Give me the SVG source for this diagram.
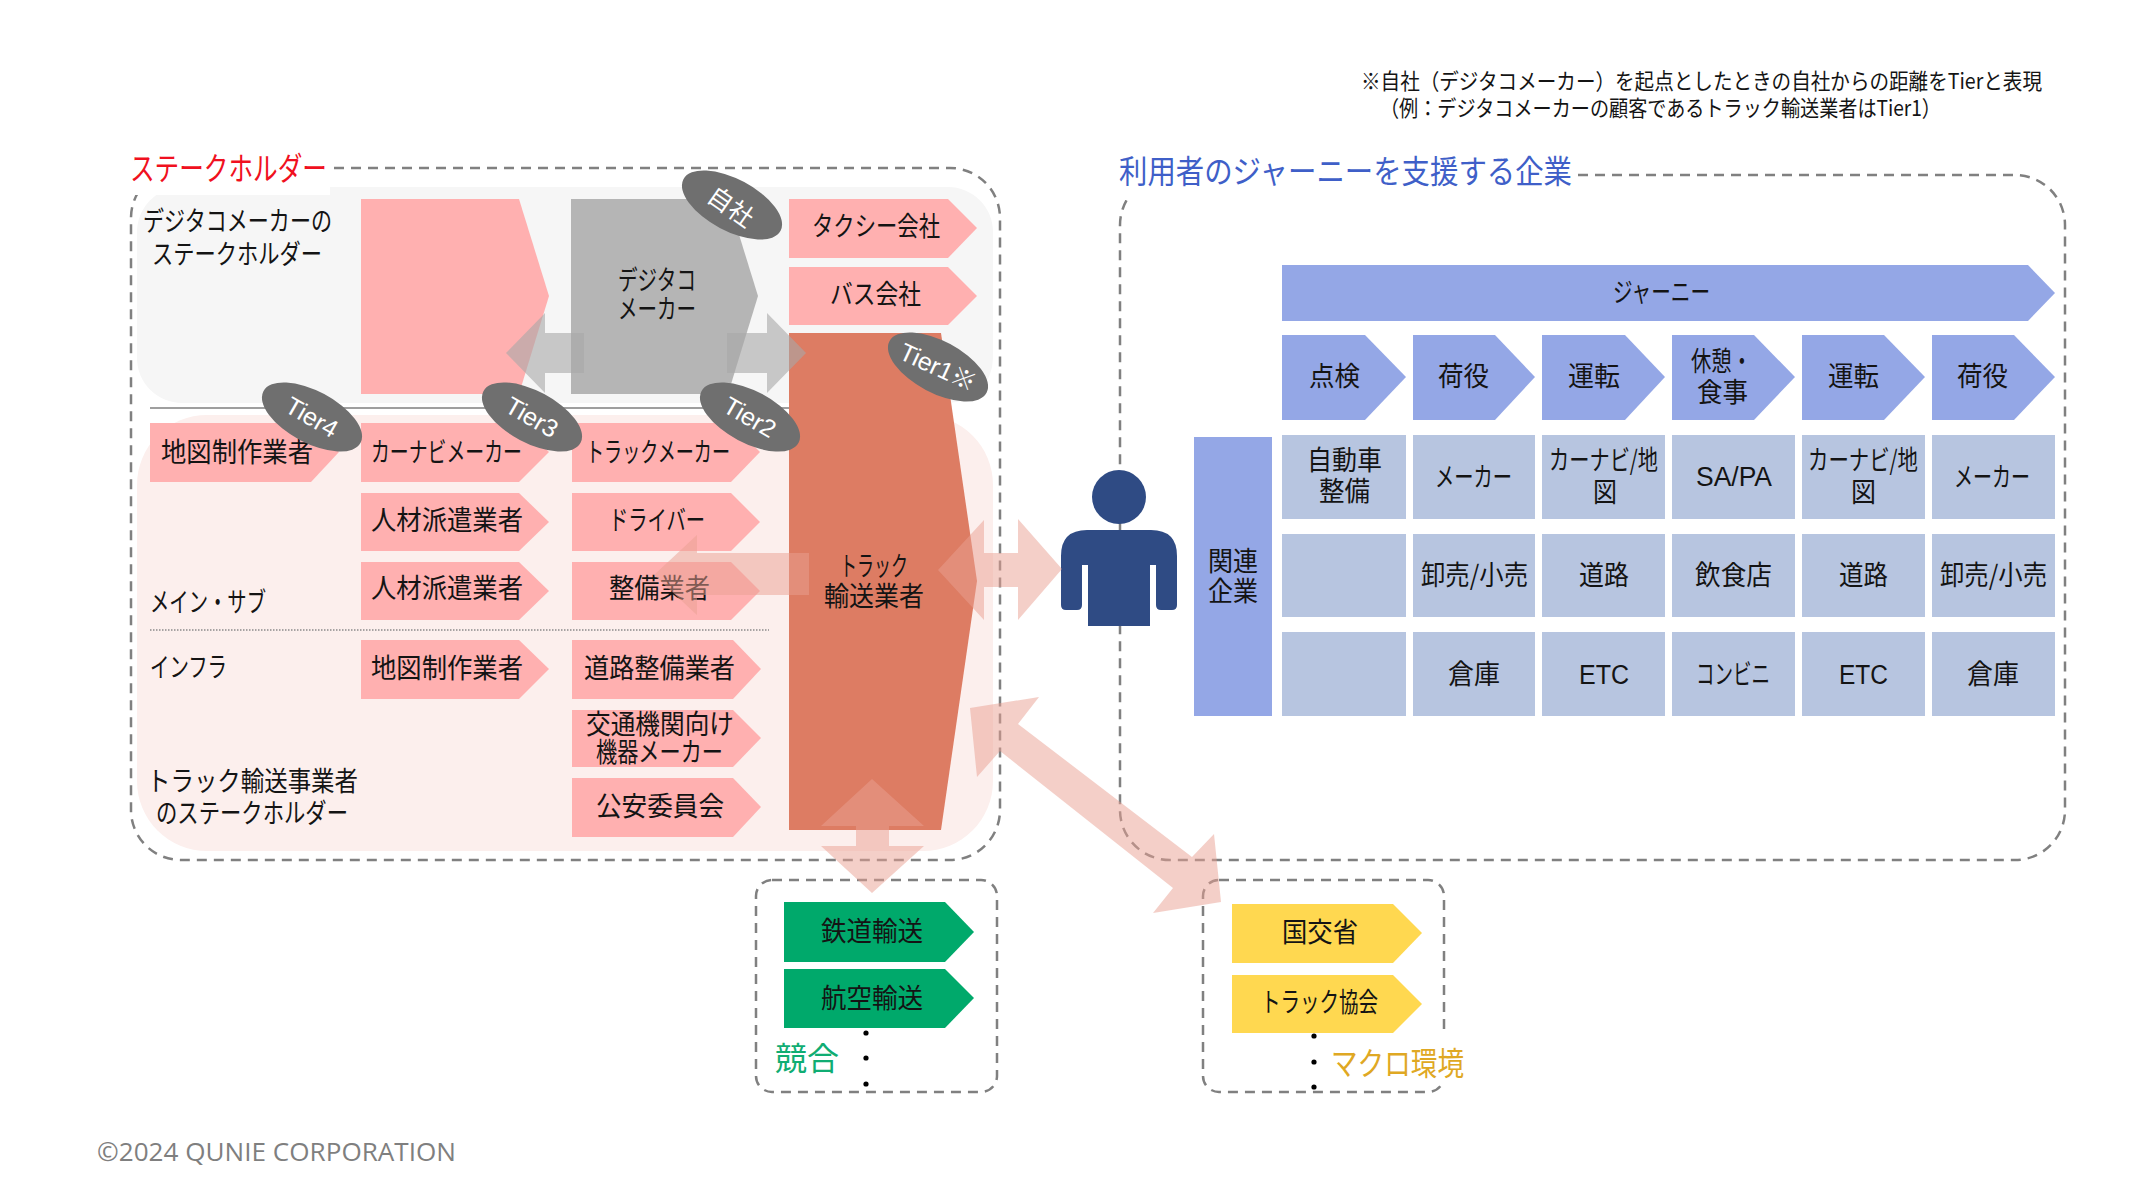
<svg xmlns="http://www.w3.org/2000/svg" width="2152" height="1200" viewBox="0 0 2152 1200">
<style>
text{font-family:"Noto Sans CJK JP","Noto Sans",sans-serif;dominant-baseline:central;fill:#141414;font-size:27px}
text:not(.ovt){transform:translate(0,-2.5px)}
.pk{fill:#ffb0b0}.gy{fill:#b5b5b5}.or{fill:#dd7c63}.bl{fill:#94a7e6}.ce{fill:#b7c5e0}.gn{fill:#00a96b}.ye{fill:#ffd850}
.dash{fill:none;stroke:#808080;stroke-width:2.5;stroke-dasharray:10 7}
.ov{fill:#6f6f6f}.ovt{fill:#fff;font-size:25px;font-family:"Liberation Sans","Noto Sans CJK JP",sans-serif}
.pa{fill:#e99f91;fill-opacity:.5}.ga{fill:#a8a8a8;fill-opacity:.6}
.head{font-size:32px}.lat{font-family:"Liberation Sans","Noto Sans CJK JP",sans-serif}
.note{font-size:22px}
</style>
<g id="backgrounds">
<rect x="137" y="187" width="856" height="216" rx="45" fill="#f6f6f6"/>
<rect x="137" y="415" width="856" height="436" rx="70" fill="#fcefed"/>
<line x1="150" y1="408" x2="789" y2="408" stroke="#7f7f7f" stroke-width="1.5"/>
<line x1="150" y1="630" x2="769" y2="630" stroke="#8a8a8a" stroke-width="1.5" stroke-dasharray="1.5 1.5"/>
</g>
<g id="frames">
<rect class="dash" x="131" y="168" width="869" height="692" rx="50"/>
<rect class="dash" x="1120" y="175" width="945" height="685" rx="50"/>
<rect class="dash" x="756" y="880" width="241" height="212" rx="16"/>
<rect class="dash" x="1203" y="880" width="241" height="212" rx="16"/>
<rect x="120" y="140" width="210" height="55" fill="#fff"/>
<rect x="1112" y="150" width="462" height="50" fill="#fff"/>
<rect x="1331" y="1036" width="136" height="48" fill="#fff"/>
</g>
<g id="titles">
<text id="t-stake" class="head" x="130" y="168" textLength="197" lengthAdjust="spacingAndGlyphs" style="fill:#f01020">ステークホルダー</text>
<text id="t-journey" class="head" x="1119" y="171" textLength="453" lengthAdjust="spacingAndGlyphs" style="fill:#3f5fc8">利用者のジャーニーを支援する企業</text>
<text class="note" x="1361" y="81" textLength="681" lengthAdjust="spacingAndGlyphs">※自社（デジタコメーカー）を起点としたときの自社からの距離をTierと表現</text>
<text class="note" x="1380" y="108" textLength="561" lengthAdjust="spacingAndGlyphs">（例：デジタコメーカーの顧客であるトラック輸送業者はTier1）</text>
<text x="97" y="1153.5" textLength="359" lengthAdjust="spacingAndGlyphs" style="font-family:'Open Sans',sans-serif;fill:#7f7f7f;font-size:26px">©2024 QUNIE CORPORATION</text>
<text x="143" y="222" textLength="189" lengthAdjust="spacingAndGlyphs">デジタコメーカーの</text>
<text x="152" y="255" textLength="170" lengthAdjust="spacingAndGlyphs">ステークホルダー</text>
<text x="150" y="603" textLength="116" lengthAdjust="spacingAndGlyphs">メイン・サブ</text>
<text x="150" y="668" textLength="77" lengthAdjust="spacingAndGlyphs">インフラ</text>
<text x="147" y="782" textLength="211" lengthAdjust="spacingAndGlyphs">トラック輸送事業者</text>
<text x="156" y="814" textLength="192" lengthAdjust="spacingAndGlyphs">のステークホルダー</text>
</g>
<g id="node-blank"><polygon class="pk" points="361,199 519,199 549,296 519,394 361,394"/></g>
<g id="node-digitaco"><polygon class="gy" points="571,199 728,199 758,296 728,394 571,394"/>
<text x="618" y="281" textLength="78" lengthAdjust="spacingAndGlyphs">デジタコ</text><text x="618" y="310" textLength="78" lengthAdjust="spacingAndGlyphs">メーカー</text></g>
<g id="node-taxi"><polygon class="pk" points="789,199 948,199 977,228 948,258 789,258"/><text x="812" y="227" textLength="128" lengthAdjust="spacingAndGlyphs">タクシー会社</text></g>
<g id="node-bus"><polygon class="pk" points="789,267 948,267 977,296 948,325 789,325"/><text x="830" y="295" textLength="91" lengthAdjust="spacingAndGlyphs">バス会社</text></g>
<g id="node-truck"><polygon class="or" points="789,333 941,333 977,581 941,830 789,830"/>
<text x="840" y="567" textLength="68" lengthAdjust="spacingAndGlyphs">トラック</text><text x="824" y="597" textLength="100" lengthAdjust="spacingAndGlyphs">輸送業者</text></g>
<g id="node-map1"><polygon class="pk" points="150,423 311,423 339,452 311,482 150,482"/><text x="161" y="453" textLength="152" lengthAdjust="spacingAndGlyphs">地図制作業者</text></g>
<g id="node-navi"><polygon class="pk" points="361,423 519,423 549,452 519,482 361,482"/><text x="371" y="453" textLength="151" lengthAdjust="spacingAndGlyphs">カーナビメーカー</text></g>
<g id="node-truckmaker"><polygon class="pk" points="572,423 731,423 760,452 731,482 572,482"/><text x="586" y="453" textLength="144" lengthAdjust="spacingAndGlyphs">トラックメーカー</text></g>
<g id="node-hr1"><polygon class="pk" points="361,493 519,493 549,522 519,551 361,551"/><text x="371" y="521" textLength="152" lengthAdjust="spacingAndGlyphs">人材派遣業者</text></g>
<g id="node-driver"><polygon class="pk" points="572,493 731,493 760,522 731,551 572,551"/><text x="609" y="521" textLength="96" lengthAdjust="spacingAndGlyphs">ドライバー</text></g>
<g id="node-hr2"><polygon class="pk" points="361,562 519,562 549,591 519,620 361,620"/><text x="371" y="589" textLength="152" lengthAdjust="spacingAndGlyphs">人材派遣業者</text></g>
<g id="node-maint"><polygon class="pk" points="572,562 731,562 760,591 731,620 572,620"/><text x="609" y="589" textLength="101" lengthAdjust="spacingAndGlyphs">整備業者</text></g>
<g id="node-map2"><polygon class="pk" points="361,640 519,640 549,669 519,699 361,699"/><text x="371" y="669" textLength="152" lengthAdjust="spacingAndGlyphs">地図制作業者</text></g>
<g id="node-road"><polygon class="pk" points="572,640 733,640 761,669 733,699 572,699"/><text x="584" y="669" textLength="151" lengthAdjust="spacingAndGlyphs">道路整備業者</text></g>
<g id="node-equip"><polygon class="pk" points="572,710 733,710 761,738 733,767 572,767"/><text x="586" y="725" textLength="148" lengthAdjust="spacingAndGlyphs">交通機関向け</text><text x="596" y="753" textLength="127" lengthAdjust="spacingAndGlyphs">機器メーカー</text></g>
<g id="node-police"><polygon class="pk" points="572,778 733,778 761,807 733,837 572,837"/><text x="596" y="807" textLength="128" lengthAdjust="spacingAndGlyphs">公安委員会</text></g>
<g id="node-rail"><polygon class="gn" points="784,902 945,902 974,932 945,962 784,962"/><text x="821" y="932" textLength="102" lengthAdjust="spacingAndGlyphs">鉄道輸送</text></g>
<g id="node-air"><polygon class="gn" points="784,969 945,969 974,998 945,1028 784,1028"/><text x="821" y="999" textLength="102" lengthAdjust="spacingAndGlyphs">航空輸送</text></g>
<g id="node-competitor-label"><text x="775" y="1058" textLength="64" lengthAdjust="spacingAndGlyphs" style="fill:#10ad73;font-size:32px">競合</text>
<circle cx="866" cy="1033" r="2.6"/><circle cx="866" cy="1058" r="2.6"/><circle cx="866" cy="1084" r="2.6"/></g>
<g id="node-mlit"><polygon class="ye" points="1232,904 1393,904 1422,933 1393,963 1232,963"/><text x="1282" y="933" textLength="76" lengthAdjust="spacingAndGlyphs">国交省</text></g>
<g id="node-assoc"><polygon class="ye" points="1232,975 1393,975 1422,1004 1393,1033 1232,1033"/><text x="1261" y="1003" textLength="117" lengthAdjust="spacingAndGlyphs">トラック協会</text></g>
<g id="node-macro-label"><text x="1331" y="1063" textLength="133" lengthAdjust="spacingAndGlyphs" style="fill:#dfa823;font-size:32px">マクロ環境</text>
<circle cx="1314" cy="1036" r="2.6"/><circle cx="1314" cy="1062" r="2.6"/><circle cx="1314" cy="1087" r="2.6"/></g>
<g id="node-person" fill="#2f4b84">
<circle cx="1119" cy="497" r="27"/>
<path d="M1061,609 V556 Q1061,530 1087,530 H1151 Q1177,530 1177,556 V605 Q1177,610 1172,610 H1161 Q1156,610 1156,605 V565 H1150 V626 H1088 V565 H1082 V605 Q1082,610 1077,610 H1066 Q1061,610 1061,605 Z"/>
</g>
<g id="node-journey"><polygon class="bl" points="1282,265 2028,265 2055,293 2028,321 1282,321"/><text x="1613" y="293" textLength="97" lengthAdjust="spacingAndGlyphs">ジャーニー</text></g>
<g id="node-s1"><polygon class="bl" points="1282,335 1365,335 1406,377 1365,420 1282,420"/><text x="1309" y="377" textLength="51" lengthAdjust="spacingAndGlyphs">点検</text></g>
<g id="node-s2"><polygon class="bl" points="1413,335 1495,335 1535,377 1495,420 1413,420"/><text x="1438" y="377" textLength="51" lengthAdjust="spacingAndGlyphs">荷役</text></g>
<g id="node-s3"><polygon class="bl" points="1542,335 1625,335 1665,377 1625,420 1542,420"/><text x="1568" y="377" textLength="52" lengthAdjust="spacingAndGlyphs">運転</text></g>
<g id="node-s4"><polygon class="bl" points="1672,335 1754,335 1795,377 1754,420 1672,420"/><text x="1691" y="362" textLength="61" lengthAdjust="spacingAndGlyphs">休憩・</text><text x="1697" y="393" textLength="51" lengthAdjust="spacingAndGlyphs">食事</text></g>
<g id="node-s5"><polygon class="bl" points="1802,335 1884,335 1925,377 1884,420 1802,420"/><text x="1828" y="377" textLength="51" lengthAdjust="spacingAndGlyphs">運転</text></g>
<g id="node-s6"><polygon class="bl" points="1932,335 2014,335 2055,377 2014,420 1932,420"/><text x="1957" y="377" textLength="51" lengthAdjust="spacingAndGlyphs">荷役</text></g>
<g id="node-related"><rect class="bl" x="1194" y="437" width="78" height="279"/><text x="1208" y="562" textLength="50" lengthAdjust="spacingAndGlyphs">関連</text><text x="1208" y="592" textLength="50" lengthAdjust="spacingAndGlyphs">企業</text></g>
<g id="node-cells">
<rect class="ce" x="1282" y="435" width="124" height="84"/><rect class="ce" x="1413" y="435" width="122" height="84"/><rect class="ce" x="1542" y="435" width="123" height="84"/><rect class="ce" x="1672" y="435" width="123" height="84"/><rect class="ce" x="1802" y="435" width="123" height="84"/><rect class="ce" x="1932" y="435" width="123" height="84"/>
<rect class="ce" x="1282" y="534" width="124" height="83"/><rect class="ce" x="1413" y="534" width="122" height="83"/><rect class="ce" x="1542" y="534" width="123" height="83"/><rect class="ce" x="1672" y="534" width="123" height="83"/><rect class="ce" x="1802" y="534" width="123" height="83"/><rect class="ce" x="1932" y="534" width="123" height="83"/>
<rect class="ce" x="1282" y="632" width="124" height="84"/><rect class="ce" x="1413" y="632" width="122" height="84"/><rect class="ce" x="1542" y="632" width="123" height="84"/><rect class="ce" x="1672" y="632" width="123" height="84"/><rect class="ce" x="1802" y="632" width="123" height="84"/><rect class="ce" x="1932" y="632" width="123" height="84"/>
<text x="1307" y="461" textLength="75" lengthAdjust="spacingAndGlyphs">自動車</text><text x="1319" y="492" textLength="51" lengthAdjust="spacingAndGlyphs">整備</text>
<text x="1435" y="478" textLength="77" lengthAdjust="spacingAndGlyphs">メーカー</text>
<text x="1549" y="461" textLength="109" lengthAdjust="spacingAndGlyphs">カーナビ/地</text><text x="1593" y="493" textLength="24" lengthAdjust="spacingAndGlyphs">図</text>
<text class="lat" x="1696" y="479" textLength="76" lengthAdjust="spacingAndGlyphs">SA/PA</text>
<text x="1808" y="461" textLength="110" lengthAdjust="spacingAndGlyphs">カーナビ/地</text><text x="1851" y="493" textLength="25" lengthAdjust="spacingAndGlyphs">図</text>
<text x="1954" y="478" textLength="76" lengthAdjust="spacingAndGlyphs">メーカー</text>
<text x="1421" y="576" textLength="107" lengthAdjust="spacingAndGlyphs">卸売/小売</text><text x="1579" y="576" textLength="50" lengthAdjust="spacingAndGlyphs">道路</text><text x="1695" y="576" textLength="77" lengthAdjust="spacingAndGlyphs">飲食店</text><text x="1839" y="576" textLength="49" lengthAdjust="spacingAndGlyphs">道路</text><text x="1940" y="576" textLength="107" lengthAdjust="spacingAndGlyphs">卸売/小売</text>
<text x="1448" y="675" textLength="52" lengthAdjust="spacingAndGlyphs">倉庫</text><text class="lat" x="1579" y="677" textLength="50" lengthAdjust="spacingAndGlyphs">ETC</text><text x="1696" y="675" textLength="74" lengthAdjust="spacingAndGlyphs">コンビニ</text><text class="lat" x="1839" y="677" textLength="49" lengthAdjust="spacingAndGlyphs">ETC</text><text x="1967" y="675" textLength="52" lengthAdjust="spacingAndGlyphs">倉庫</text>
</g>
<g id="connectors">
<polygon class="ga" points="506,353 545,313 545,333 584,333 584,373 545,373 545,393"/>
<polygon class="ga" points="806,353 767,313 767,333 727,333 727,373 767,373 767,393"/>
<polygon class="pa" points="654,575 697,535 697,553 809,553 809,595 697,595 697,615"/>
<polygon class="pa" points="938,570 984,520 984,553 1018,553 1018,519 1062,569 1018,620 1018,587 984,587 984,620"/>
<polygon class="pa" points="872,779 924,826 889,826 889,846 924,846 872,893 821,846 856,846 856,826 821,826"/>
<polygon class="pa" points="970,708 1039,697 1018,724 1192,857 1214,834 1221,902 1153,913 1173,888 1000,751 977,777"/>
</g>
<g id="badges">
<g id="badge-self"><ellipse class="ov" cx="732" cy="205" rx="55" ry="26" transform="rotate(28 732 205)"/><text class="ovt" x="732" y="205" text-anchor="middle" transform="rotate(35 732 205)" style="font-family:'Noto Sans CJK JP',sans-serif">自社</text></g>
<g id="badge-t4"><ellipse class="ov" cx="312" cy="417" rx="55" ry="26" transform="rotate(28 312 417)"/><text class="ovt" x="312" y="417" text-anchor="middle" transform="rotate(30 312 417)">Tier4</text></g>
<g id="badge-t3"><ellipse class="ov" cx="532" cy="417" rx="55" ry="26" transform="rotate(28 532 417)"/><text class="ovt" x="532" y="417" text-anchor="middle" transform="rotate(30 532 417)">Tier3</text></g>
<g id="badge-t2"><ellipse class="ov" cx="750" cy="417" rx="55" ry="26" transform="rotate(28 750 417)"/><text class="ovt" x="750" y="417" text-anchor="middle" transform="rotate(30 750 417)">Tier2</text></g>
<g id="badge-t1"><ellipse class="ov" cx="938" cy="367" rx="55" ry="26" transform="rotate(28 938 367)"/><text class="ovt" x="938" y="367" text-anchor="middle" transform="rotate(25 938 367)">Tier1※</text></g>
</g>
</svg>
